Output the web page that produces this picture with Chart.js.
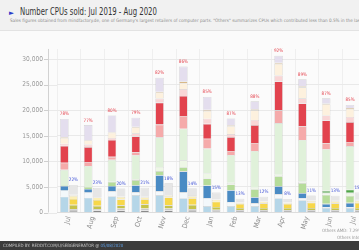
<!DOCTYPE html>
<html>
<head>
<meta charset="utf-8">
<script src="https://cdn.jsdelivr.net/npm/chart.js@4.4.1/dist/chart.umd.min.js"></script>
<style>
  html, body { margin: 0; padding: 0; width: 359px; height: 250px; overflow: hidden; background: #fbfbfb; }
  body { position: relative; font-family: 'Liberation Sans Narrow', 'DejaVu Sans Condensed', Roboto, sans-serif; }
  #head { position: absolute; left: 0; top: 0; width: 359px; height: 30px; background: #f1f1f1; border-bottom: 1px solid #e3e3e3; }
  #tri { position: absolute; left: 9px; top: 9px; font-size: 7px; color: #2b39c9; }
  #title { position: absolute; left: 20px; top: 5px; font-size: 10.4px; color: #333; white-space: nowrap; transform: scaleX(0.74); transform-origin: left top; }
  #sub { position: absolute; left: 10px; top: 18px; font-size: 4.6px; color: #8c8c8c; white-space: nowrap; }
  #wrap { position: absolute; left: 0; top: 31px; width: 400px; height: 209px; }
  .note { position: absolute; font-size: 4.5px; color: #999; white-space: nowrap; }
  #foot { position: absolute; left: 0; top: 241px; width: 359px; height: 9px; background: #3b3b3b; }
  #foot span { position: absolute; left: 3px; top: 2px; font-size: 4.4px; color: #c4c4c4; white-space: nowrap; }
  #foot b { font-weight: normal; color: #5f9fe6; }
</style>
</head>
<body>
<div id="head">
  <div id="tri">&#9658;</div>
  <div id="title">Number CPUs sold: Jul 2019 - Aug 2020</div>
  <div id="sub">Sales figures obtained from mindfactory.de, one of Germany's largest retailers of computer parts. "Others" summarizes CPUs which contributed less than 0.5% in the last 2 months.</div>
</div>
<div id="wrap"><canvas id="cpuChart" width="400" height="209"></canvas></div>
<div class="note" style="left:322px; top:228px;">Others AMD: 7.29% of AMD sales</div>
<div class="note" style="left:337px; top:235px;">Others Intel: 2.1%</div>
<div id="foot"><span>COMPILED BY: REDDIT.COM/U/SEBGENERATOR @ <b>05/08/2020</b></span></div>

<script>
// Monate (Jul 2019 - Aug 2020), Aug 2020 liegt ausserhalb des Bildes
const months = ['Jul', 'Aug', 'Sep', 'Oct', 'Nov', 'Dec', 'Jan', 'Feb', 'Mar', 'Apr', 'May', 'Jun', 'Jul', 'Aug'];
const yTicks = [0, 5000, 10000, 15000, 20000, 25000, 30000];

// AMD, von unten nach oben
const r5_2600   = [3100, 2900, 3200, 3400, 3400, 2800, 1250, 1250, 1250, 2800, 2400, 900, 900, null];
const r5_2600x  = [1200, 1000, 1000, 600, 800, 1150, 1550, 800, 600, 800, 400, 200, 200, null];
const r7_2700x  = [900, 700, 1000, 1350, 3100, 4100, 2500, 2300, 1150, 1550, 1000, 600, 800, null];
const r5_3600x  = [150, 400, 800, 1000, 800, 800, 1350, 1150, 1550, 1950, 1950, 1750, 1350, null];
const r5_3400g  = [0, 0, 0, 200, 800, 1350, 1000, 300, 300, 300, 300, 400, 600, null];
const r5_3600xt = [0, 0, 0, 0, 0, 0, 0, 0, 0, 0, 0, 400, 600, null];
const r5_3600   = [3000, 4100, 4300, 4650, 5800, 6200, 4850, 5450, 7200, 10100, 8150, 8150, 8550, null];
const r7_3800x  = [1400, 800, 600, 600, 2500, 2500, 1950, 800, 1550, 2500, 2700, 1150, 800, null];
const r7_3700x  = [3300, 2900, 3300, 3100, 4300, 3900, 2900, 2700, 3500, 5650, 4450, 4450, 3900, null];
const r9_3950x  = [400, 500, 400, 600, 800, 1350, 1000, 600, 1000, 1150, 1000, 1000, 1000, null];
const r9_3900x  = [1150, 800, 1000, 1150, 1150, 1150, 1550, 1550, 1950, 2300, 2150, 2150, 1550, null];
const threadrip = [100, 100, 100, 150, 200, 350, 200, 150, 150, 200, 200, 200, 200, null];
const othersAmd = [3600, 2900, 3300, 1750, 2700, 2900, 2500, 1350, 1550, 1350, 1350, 1000, 600, null];

// Intel, von unten nach oben
const i3_9100f    = [300, 400, 400, 400, 400, 300, 250, 300, 300, 300, 300, 300, 300, null];
const i5_9600k    = [400, 300, 400, 400, 400, 400, 300, 200, 200, 200, 200, 200, 200, null];
const i5_9400f    = [800, 600, 600, 800, 600, 800, 550, 400, 400, 400, 400, 400, 400, null];
const i7_9700k    = [1150, 1150, 1150, 1000, 1550, 1300, 1000, 800, 900, 800, 1050, 900, 1000, null];
const i9_9900k    = [600, 500, 500, 400, 300, 400, 400, 200, 300, 200, 300, 400, 400, null];
const i5_10400f   = [200, 100, 100, 100, 150, 200, 100, 100, 100, 100, 100, 200, 200, null];
const othersIntel = [1950, 1750, 1550, 1750, 2300, 1350, 1300, 700, 900, 650, 1000, 900, 1400, null];

// Anteile ueber den Balken (%)
const amdShare   = [78, 77, 80, 79, 82, 86, 85, 87, 88, 92, 89, 87, 85, null];
const intelShare = [22, 23, 20, 21, 18, 14, 15, 13, 12, 8, 11, 13, 15, null];

const amdSeries = [
    ['Ryzen 5 2600', r5_2600, '#b5d6e8'],
    ['Ryzen 5 2600X', r5_2600x, '#f3f8fb'],
    ['Ryzen 7 2700X', r7_2700x, '#4a8bc4'],
    ['Ryzen 5 3600X', r5_3600x, '#b6dc9a'],
    ['Ryzen 5 3400G', r5_3400g, '#eef7e6'],
    ['Ryzen 5 3600XT', r5_3600xt, '#4fa648'],
    ['Ryzen 5 3600', r5_3600, '#e0f1da'],
    ['Ryzen 7 3800X', r7_3800x, '#f5aaaa'],
    ['Ryzen 7 3700X', r7_3700x, '#e2434e'],
    ['Ryzen 9 3950X', r9_3950x, '#f9d6d6'],
    ['Ryzen 9 3900X', r9_3900x, '#fdf1de'],
    ['Threadripper', threadrip, '#d8b888'],
    ['Others AMD', othersAmd, '#e4deee']
];
const intelSeries = [
    ['i3-9100F', i3_9100f, '#8a8a8a'],
    ['i5-9600K', i5_9600k, '#c9c9c9'],
    ['i5-9400F', i5_9400f, '#c6c34a'],
    ['i7-9700K', i7_9700k, '#f7d74a'],
    ['i9-9900K', i9_9900k, '#fcefb6'],
    ['i5-10400F', i5_10400f, '#faf6e8'],
    ['Others Intel', othersIntel, '#e6e6e6']
];

function buildDatasets(series, stack) {
    return series.map(function (s) {
        return {
            label: s[0],
            data: s[1],
            backgroundColor: s[2],
            borderColor: 'rgba(175,175,175,0.55)',
            borderWidth: 0.6,
            stack: stack,
            categoryPercentage: 0.76,
            barPercentage: 0.95
        };
    });
}

// Achse, Tickmarken und Prozentwerte
const extrasPlugin = {
    id: 'extras',
    beforeDatasetsDraw(chart) {
        const ctx = chart.ctx;
        const area = chart.chartArea;
        const y = chart.scales.y;
        const axisX = area.left - 9;
        ctx.save();
        ctx.lineWidth = 1;
        y.ticks.forEach(function (t) {
            const py = Math.round(y.getPixelForValue(t.value)) + 0.5;
            ctx.strokeStyle = '#e9e9e9';
            ctx.beginPath();
            ctx.moveTo(axisX, py);
            ctx.lineTo(area.left, py);
            ctx.stroke();
            ctx.strokeStyle = '#cfcfcf';
            ctx.beginPath();
            ctx.moveTo(axisX - 4, py);
            ctx.lineTo(axisX, py);
            ctx.stroke();
        });
        ctx.strokeStyle = '#d2d2d2';
        ctx.beginPath();
        ctx.moveTo(axisX + 0.5, area.top);
        ctx.lineTo(axisX + 0.5, area.bottom);
        ctx.stroke();
        ctx.restore();
    },
    afterDatasetsDraw(chart) {
        const ctx = chart.ctx;
        const amdTop = chart.getDatasetMeta(amdSeries.length - 1);
        const intelTop = chart.getDatasetMeta(amdSeries.length + intelSeries.length - 1);
        ctx.save();
        ctx.font = '4.6px "Liberation Sans Narrow", "DejaVu Sans Condensed", Roboto, sans-serif';
        ctx.textAlign = 'center';
        ctx.textBaseline = 'bottom';
        months.forEach(function (m, i) {
            if (amdShare[i] !== null) {
                const el = amdTop.data[i];
                ctx.fillStyle = '#e4414c';
                ctx.fillText(amdShare[i] + '%', el.x, el.y - 2.5);
            }
            if (intelShare[i] !== null) {
                const el = intelTop.data[i];
                ctx.fillStyle = '#3c4fd6';
                ctx.fillText(intelShare[i] + '%', el.x, el.y - 2.5);
            }
        });
        ctx.restore();
    }
};

Chart.defaults.font.family = "'Liberation Sans Narrow', 'DejaVu Sans Condensed', Roboto, sans-serif";

new Chart(document.getElementById('cpuChart'), {
    type: 'bar',
    data: {
        labels: months,
        datasets: buildDatasets(amdSeries, 'AMD').concat(buildDatasets(intelSeries, 'Intel'))
    },
    options: {
        responsive: false,
        animation: false,
        layout: { padding: { top: 17, right: 9.8, left: 0, bottom: 0 } },
        plugins: {
            legend: { display: false },
            tooltip: { enabled: false }
        },
        scales: {
            x: {
                stacked: true,
                afterFit: function (s) { s.height = 27.5; },
                grid: { color: '#efefef', drawTicks: false, offset: true },
                border: { color: '#dddddd' },
                ticks: {
                    color: '#8d8d8d',
                    font: { size: 7 },
                    minRotation: 75,
                    maxRotation: 75,
                    padding: 3,
                    autoSkip: false
                }
            },
            y: {
                stacked: true,
                min: 0,
                max: 32000,
                afterFit: function (s) { s.width = 57; },
                afterBuildTicks: function (s) {
                    s.ticks = yTicks.map(function (v) { return { value: v }; });
                },
                grid: { color: '#e9e9e9', drawTicks: false },
                border: { display: false },
                ticks: {
                    color: '#9a9a9a',
                    font: { size: 6.6 },
                    padding: 14,
                    callback: function (v) { return v.toLocaleString('en-US'); }
                }
            }
        }
    },
    plugins: [extrasPlugin]
});
</script>
</body>
</html>
